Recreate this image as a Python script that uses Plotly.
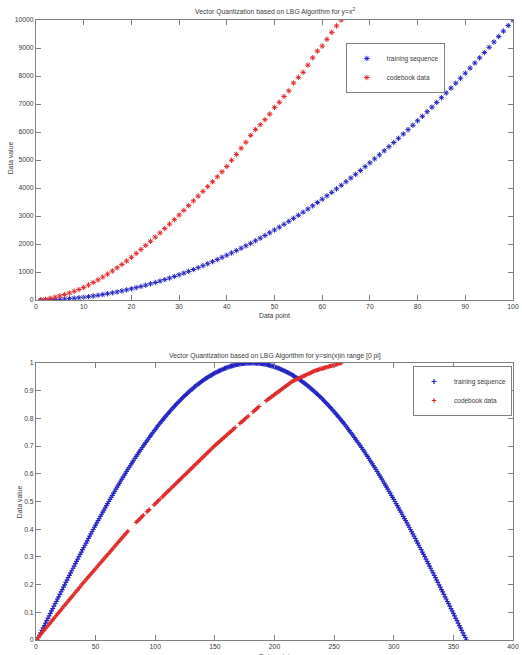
import plotly.graph_objects as go

# ---------------- data: top chart (y = x^2) ----------------
train_sq_x = list(range(1, 101))
train_sq_y = [1, 4, 9, 16, 25, 36, 49, 64, 81, 100, 121, 144, 169, 196, 225, 256, 289, 324, 361, 400,
              441, 484, 529, 576, 625, 676, 729, 784, 841, 900, 961, 1024, 1089, 1156, 1225, 1296, 1369,
              1444, 1521, 1600, 1681, 1764, 1849, 1936, 2025, 2116, 2209, 2304, 2401, 2500, 2601, 2704,
              2809, 2916, 3025, 3136, 3249, 3364, 3481, 3600, 3721, 3844, 3969, 4096, 4225, 4356, 4489,
              4624, 4761, 4900, 5041, 5184, 5329, 5476, 5625, 5776, 5929, 6084, 6241, 6400, 6561, 6724,
              6889, 7056, 7225, 7396, 7569, 7744, 7921, 8100, 8281, 8464, 8649, 8836, 9025, 9216, 9409,
              9604, 9801, 10000]
code_sq_x = list(range(1, 65))
code_sq_y = [0, 25, 60, 100, 145, 195, 250, 310, 375, 450, 535, 625, 720, 820, 925, 1035, 1150, 1270,
             1395, 1525, 1665, 1805, 1950, 2095, 2245, 2395, 2550, 2710, 2870, 3035, 3200, 3370, 3540,
             3710, 3880, 4050, 4225, 4400, 4580, 4770, 4990, 5200, 5420, 5635, 5880, 6090, 6260, 6440,
             6640, 6880, 7060, 7270, 7470, 7750, 7950, 8130, 8390, 8650, 8890, 9070, 9310, 9560, 9790,
             10000]

# ---------------- data: bottom chart (y = sin(x)) ----------------
train_sin_x = list(range(1, 362))
train_sin_y = [
    0, .009, .017, .026, .035, .044, .052, .061, .070, .078,
    .087, .096, .105, .113, .122, .131, .139, .148, .156, .165,
    .174, .182, .191, .199, .208, .216, .225, .233, .242, .250,
    .259, .267, .276, .284, .292, .301, .309, .317, .326, .334,
    .342, .350, .358, .367, .375, .383, .391, .399, .407, .415,
    .423, .431, .438, .446, .454, .462, .469, .477, .485, .492,
    .500, .508, .515, .522, .530, .537, .545, .552, .559, .566,
    .574, .581, .588, .595, .602, .609, .616, .623, .629, .636,
    .643, .649, .656, .663, .669, .676, .682, .688, .695, .701,
    .707, .713, .719, .725, .731, .737, .743, .749, .755, .760,
    .766, .772, .777, .783, .788, .793, .799, .804, .809, .814,
    .819, .824, .829, .834, .839, .843, .848, .853, .857, .862,
    .866, .870, .875, .879, .883, .887, .891, .895, .899, .903,
    .906, .910, .914, .917, .921, .924, .927, .930, .934, .937,
    .940, .943, .946, .948, .951, .954, .956, .959, .961, .964,
    .966, .968, .970, .972, .974, .976, .978, .980, .982, .983,
    .985, .986, .988, .989, .990, .991, .993, .994, .995, .995,
    .996, .997, .998, .998, .999, .999, .999, 1.0, 1.0, 1.0,
    1.0,
    1.0, 1.0, 1.0, .999, .999, .999, .998, .998, .997, .996,
    .995, .995, .994, .993, .991, .990, .989, .988, .986, .985,
    .983, .982, .980, .978, .976, .974, .972, .970, .968, .966,
    .964, .961, .959, .956, .954, .951, .948, .946, .943, .940,
    .937, .934, .930, .927, .924, .921, .917, .914, .910, .906,
    .903, .899, .895, .891, .887, .883, .879, .875, .870, .866,
    .862, .857, .853, .848, .843, .839, .834, .829, .824, .819,
    .814, .809, .804, .799, .793, .788, .783, .777, .772, .766,
    .760, .755, .749, .743, .737, .731, .725, .719, .713, .707,
    .701, .695, .688, .682, .676, .669, .663, .656, .649, .643,
    .636, .629, .623, .616, .609, .602, .595, .588, .581, .574,
    .566, .559, .552, .545, .537, .530, .522, .515, .508, .500,
    .492, .485, .477, .469, .462, .454, .446, .438, .431, .423,
    .415, .407, .399, .391, .383, .375, .367, .358, .350, .342,
    .334, .326, .317, .309, .301, .292, .284, .276, .267, .259,
    .250, .242, .233, .225, .216, .208, .199, .191, .182, .174,
    .165, .156, .148, .139, .131, .122, .113, .105, .096, .087,
    .078, .070, .061, .052, .044, .035, .026, .017, .009, 0]
code_sin_x = list(range(1, 257))
code_sin_y = [.003, .010, .016, .021, .026, .031, .036, .042, .047, .052,
              .057, .062, .068, .073, .078, .083, .088, .094, .099, .104,
              .109, .114, .120, .125, .130, .135, .140, .146, .151, .156,
              .161, .166, .172, .177, .182, .187, .192, .198, .203, .208,
              .213, .218, .223, .228, .233, .238, .243, .248, .253, .258,
              .263, .268, .273, .278, .283, .288, .293, .298, .303, .308,
              .313, .318, .323, .328, .333, .338, .343, .348, .353, .358,
              .363, .368, .373, .378, .383, .388, .393, None, None, None,
              None, None, None, .425, .429, .433, .437, .442, .446, .450,
              None, None, .463, .467, .471, None, None, None, .488, .492,
              .496, .500, .505, .509, None, .517, .521, .526, .530, .534,
              .538, .542, .547, .551, .555, .559, .563, .568, .572, .576,
              .580, .584, .589, .593, .597, .601, .605, .610, .614, .618,
              .622, .626, .631, .635, .639, .643, .647, .652, .656, .660,
              .664, .668, .673, .677, .681, .685, .689, .694, .698, .702,
              .706, .710, .713, .717, .721, .725, .729, .732, .736, .740,
              .744, .748, .751, .755, .759, .763, .767, None, None, None,
              .782, .786, .789, .793, .797, .801, .805, .808, None, None,
              None, .824, .827, .831, .835, .839, .843, None, None, None,
              None, None, .864, .867, .870, .873, .876, .880, .883, .886,
              .889, .892, .896, .899, .902, .905, .908, .912, .915, .918,
              .921, .924, .928, .931, .934, .936, .938, .940, .942, .944,
              .946, .948, .950, .952, .954, .956, .958, .960, .962, .964,
              .966, .968, .970, .972, .974, .975, .976, .978, .979, .980,
              .981, .983, .984, .985, .986, .988, .989, .990, .991, .993,
              .994, .995, .996, .998, .999, 1.0]

sq_y_ticks = list(range(0, 10001, 1000))
sq_x_ticks = list(range(0, 101, 10))
sin_y_ticks = [0, 0.1, 0.2, 0.3, 0.4, 0.5, 0.6, 0.7, 0.8, 0.9, 1]
sin_x_ticks = list(range(0, 401, 50))

title_top = "Vector Quantization based on LBG Algorithm for y=x<sup>2</sup>"
title_bottom = "Vector Quantization based on LBG Algorithm for y=sin(x)in range [0 pi]"

# ---------------- styling ----------------
BLUE = "#2424c4"
RED = "#e02a2a"
TXT = "#3a3a3a"
FONT = "Liberation Sans, Arial, sans-serif"
W, H = 522, 655
ML, MR, MT, MB = 36, 3, 20, 15
PW, PH = W - ML - MR, H - MT - MB


def py(pix):
    return (H - MB - pix) / PH


def px(pix):
    return (pix - ML) / PW


fig = go.Figure()
fig.add_trace(go.Scatter(x=train_sq_x, y=train_sq_y, mode="markers", name="training sequence",
                         marker=dict(symbol="asterisk", size=4.5, color=BLUE, line=dict(width=1.0, color=BLUE)),
                         xaxis="x", yaxis="y", legend="legend"))
fig.add_trace(go.Scatter(x=code_sq_x, y=code_sq_y, mode="markers", name="codebook data",
                         marker=dict(symbol="asterisk", size=4.5, color=RED, line=dict(width=1.0, color=RED)),
                         xaxis="x", yaxis="y", legend="legend"))
fig.add_trace(go.Scatter(x=train_sin_x, y=train_sin_y, mode="markers", name="training sequence",
                         marker=dict(symbol="cross-thin", size=3.5, color=BLUE, line=dict(width=1.2, color=BLUE)),
                         xaxis="x2", yaxis="y2", legend="legend2"))
fig.add_trace(go.Scatter(x=code_sin_x, y=code_sin_y, mode="markers", name="codebook data",
                         marker=dict(symbol="cross-thin", size=3.2, color=RED, line=dict(width=1.2, color=RED)),
                         xaxis="x2", yaxis="y2", legend="legend2"))

axis_common = dict(showline=True, linecolor="#808080", linewidth=1, mirror="ticks", ticks="inside",
                   ticklen=5, tickcolor="#808080", showgrid=False, zeroline=False,
                   ticklabeloverflow="allow",
                   tickfont=dict(family=FONT, size=6.8, color=TXT))

legend_common = dict(xanchor="right", yanchor="top", bgcolor="white", bordercolor="#808080",
                     borderwidth=1, font=dict(family=FONT, size=6.5, color=TXT),
                     itemwidth=30, tracegroupgap=0)

fig.update_layout(
    width=W, height=H,
    margin=dict(l=ML, r=MR, t=MT, b=MB),
    paper_bgcolor="white", plot_bgcolor="white",
    xaxis=dict(axis_common, domain=[0, 1], range=[0, 100], tickvals=sq_x_ticks, anchor="y"),
    yaxis=dict(axis_common, domain=[py(300), 1], range=[0, 10000], tickvals=sq_y_ticks,
               tickformat="d", anchor="x"),
    xaxis2=dict(axis_common, domain=[0, 1], range=[0, 400], tickvals=sin_x_ticks, anchor="y2"),
    yaxis2=dict(axis_common, domain=[0, py(363)], range=[0, 1], tickvals=sin_y_ticks, anchor="x2"),
    legend=dict(legend_common, x=px(450), y=py(43)),
    legend2=dict(legend_common, x=px(518), y=py(366)),
    showlegend=True,
    annotations=[
        dict(text=title_top, x=0.5, y=py(11), xref="paper", yref="paper", showarrow=False,
             font=dict(family=FONT, size=6.8, color=TXT), xanchor="center", yanchor="middle"),
        dict(text=title_bottom, x=0.5, y=py(356), xref="paper", yref="paper", showarrow=False,
             font=dict(family=FONT, size=6.8, color=TXT), xanchor="center", yanchor="middle"),
        dict(text="Data point", x=0.5, y=py(316), xref="paper", yref="paper", showarrow=False,
             font=dict(family=FONT, size=6.8, color=TXT), xanchor="center", yanchor="middle"),
        dict(text="Data point", x=0.5, y=py(657), xref="paper", yref="paper", showarrow=False,
             font=dict(family=FONT, size=6.8, color=TXT), xanchor="center", yanchor="middle"),
        dict(text="Data value", x=px(11), y=py(158), xref="paper", yref="paper", showarrow=False,
             textangle=-90, font=dict(family=FONT, size=6.8, color=TXT), xanchor="center", yanchor="middle"),
        dict(text="Data value", x=px(20), y=py(502), xref="paper", yref="paper", showarrow=False,
             textangle=-90, font=dict(family=FONT, size=6.8, color=TXT), xanchor="center", yanchor="middle"),
    ],
)

# remove the browser's default 8px body margin so the 522x655 figure fills the window exactly
fig.write_html("out.html", config={"displayModeBar": False},
               post_script="document.body.style.margin='0';document.body.style.overflow='hidden';")
